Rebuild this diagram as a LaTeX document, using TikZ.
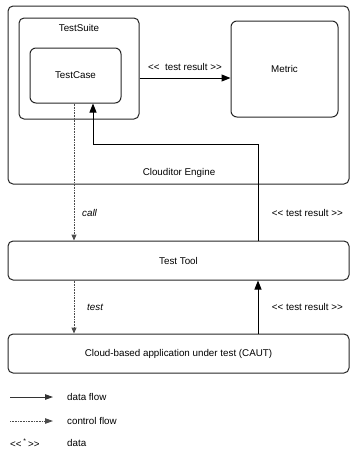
\documentclass[tikz,border=0pt]{standalone}
\usepackage{fontspec}
\setmainfont{Liberation Sans}
\usetikzlibrary{arrows.meta}
\newcommand{\lguil}{\textless{}\textless{}}
\newcommand{\rguil}{\textgreater{}\textgreater{}}
\begin{document}
\begin{tikzpicture}[x=1pt,y=-1pt,
  font=\fontsize{9.8}{11}\selectfont,
  box/.style={draw=black!85,line width=1pt,rounded corners=5pt,inner sep=0pt},
  dataflow/.style={draw=black,line width=1pt,-{Triangle[length=9pt,width=7pt]}},
  ctrlflow/.style={draw=black!70,line width=1pt,dash pattern=on 0.8pt off 0.8pt,-{Triangle[length=6pt,width=5pt]}},
  lbl/.style={inner sep=0pt}]
\useasboundingbox (0,0) rectangle (350,451);
% boxes
\node[box,minimum width=341pt,minimum height=178pt] (engine) at (178.5,95) {};
\node[box,minimum width=120pt,minimum height=101pt] (suite) at (79,68.5) {};
\node[box,rounded corners=6pt,minimum width=91pt,minimum height=55pt] (case) at (75.5,75.5) {TestCase};
\node[box,rounded corners=6pt,minimum width=107pt,minimum height=96pt] (metric) at (284.5,69) {Metric};
\node[box,minimum width=341pt,minimum height=39pt] (tool) at (178.5,260.5) {Test Tool};
\node[box,minimum width=341pt,minimum height=39pt] (caut) at (178.5,353.5) {Cloud-based application under test (CAUT)};
% labels in boxes
\node[lbl] (suitelbl) at (79,28) {TestSuite};
\node[lbl] (enginelbl) at (179,173) {Clouditor Engine};
% connectors
\draw[dataflow] (suite.east |- 0,78) -- (metric.west |- 0,78);
\node[lbl] (res1) at (185,67) {\lguil\ \ test result \rguil};
\coordinate (up1) at (258,144);
\coordinate (up2) at (93,144);
\draw[dataflow] (tool.north -| up1) -- (up1) -- (up2) -- (case.south -| up2);
\draw[ctrlflow] (case.south -| 74,0) -- (tool.north -| 74,0);
\node[lbl,anchor=west] (call) at (82,213) {\itshape call};
\node[lbl,anchor=east] (res2) at (343,213) {\lguil\ test result \rguil};
\draw[ctrlflow] (tool.south -| 74,0) -- (caut.north -| 74,0);
\node[lbl,anchor=west] (test) at (87,307) {\itshape test};
\draw[dataflow] (caut.north -| up1) -- (tool.south -| up1);
\node[lbl,anchor=east] (res3) at (343,307) {\lguil\ test result \rguil};
% legend
\coordinate (l1a) at (10,397);
\coordinate (l1b) at (53,397);
\draw[draw=black!80,line width=1pt,-{Triangle[length=8pt,width=5.5pt]}] (l1a) -- (l1b);
\node[lbl,anchor=west] (ldata) at (67,397) {data flow};
\coordinate (l2a) at (10,421);
\coordinate (l2b) at (53,421);
\draw[ctrlflow,-{Triangle[length=8pt,width=5.5pt]}] (l2a) -- (l2b);
\node[lbl,anchor=west] (lctrl) at (67,421) {control flow};
\node[lbl,anchor=west] (lsym) at (10,443) {\lguil\,\textsuperscript{*}\,\rguil};
\node[lbl,anchor=west] (ldat) at (67,443) {data};
\end{tikzpicture}
\end{document}
